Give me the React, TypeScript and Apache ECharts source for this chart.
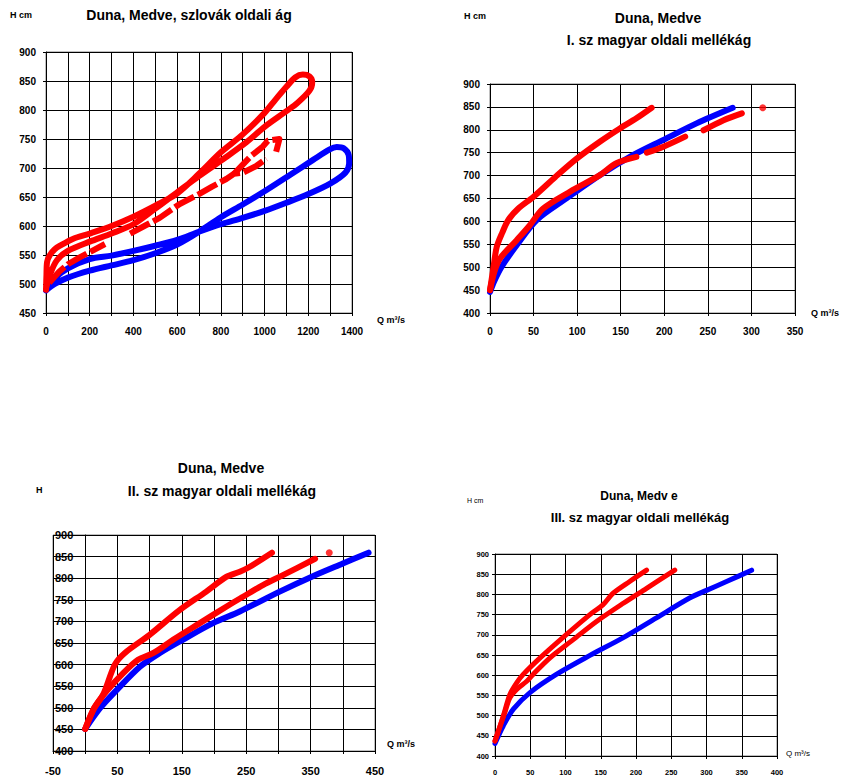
import React, { useEffect, useRef } from "react";
import * as echarts from "echarts";

// ---------- Chart 1: Duna, Medve, szlovák oldali ág ----------
const c1Blue: [number, number][] = [
  [0, 489], [40, 510], [100, 527], [200, 543], [300, 549], [400, 557], [500, 566], [600, 576],
  [700, 590], [800, 603], [900, 614], [1000, 626], [1100, 640], [1200, 655], [1300, 673],
  [1370, 692], [1387, 708], [1385, 722], [1362, 734], [1330, 736], [1298, 732], [1222, 714],
  [1116, 688], [1009, 662], [900, 637], [800, 615], [700, 590], [600, 568], [500, 553],
  [400, 541], [300, 532], [200, 523], [100, 511], [40, 500], [0, 489],
];
const c1RedLoop: [number, number][] = [
  [0, 490], [2, 515], [5, 538], [18, 550], [40, 560], [64, 566], [125, 578], [200, 587],
  [300, 600], [400, 616], [500, 635], [600, 656], [700, 690], [800, 727], [900, 758],
  [1000, 795], [1050, 818], [1100, 840], [1140, 856], [1175, 861], [1205, 858], [1218, 848],
  [1205, 833], [1150, 812], [1100, 798], [1000, 771], [916, 744], [810, 715], [700, 686],
  [600, 658], [500, 630], [400, 603], [300, 587], [200, 573], [100, 557], [50, 541],
  [20, 518], [0, 492],
];
const c1RedDashA: [number, number][] = [
  [15, 502], [60, 521], [100, 534], [150, 545], [200, 555], [270, 569],
];
const c1RedDashB: [number, number][] = [
  [385, 587], [450, 600], [520, 614], [612, 638], [700, 655], [760, 668], [825, 681],
  [860, 690], [901, 692], [960, 703], [1008, 716],
];
const c1RedDashC: [number, number][] = [
  [860, 690], [939, 721], [992, 737], [1015, 747], [1068, 750], [1053, 728],
];

// ---------- Chart 2: I. sz magyar oldali mellékág ----------
const c2RedUpper: [number, number][] = [
  [0, 450], [4, 500], [7.7, 544], [14, 575], [21, 603], [32.5, 628], [50, 654], [75, 697],
  [99.5, 737], [126, 774], [149, 803], [168, 825], [185.5, 848],
];
const c2Blue: [number, number][] = [
  [0, 446], [5, 470], [13.4, 501], [30.6, 548], [53.6, 603], [86, 648], [126, 701],
  [164.5, 745], [199, 778], [237, 814], [278.5, 848],
];
const c2RedLowerA: [number, number][] = [
  [0, 450], [5, 490], [11.5, 519], [30.6, 559], [45, 590], [61, 628], [92, 665], [126, 701],
  [145, 727], [168, 741],
];
const c2RedLowerB: [number, number][] = [[180, 750], [199, 763], [224, 785]];
const c2RedLowerC: [number, number][] = [[245, 799], [268, 821], [289, 836]];
const c2RedDot: [number, number][] = [[313, 848]];

// ---------- Chart 3: II. sz magyar oldali mellékág ----------
const c3Blue: [number, number][] = [
  [0, 451], [23, 499], [48.8, 541], [85, 595], [116, 627], [152, 658], [198.5, 696],
  [240, 723], [302, 769], [351, 803], [400, 834], [440, 859],
];
const c3RedUpper: [number, number][] = [
  [0, 451], [12.6, 496], [28, 531], [46, 600], [61.6, 627], [100, 669], [146.5, 726],
  [188, 769], [219, 803], [240, 815], [255, 826], [290, 859],
];
const c3RedMiddle: [number, number][] = [
  [0, 451], [15, 502], [33, 538], [59, 580], [82, 611], [106, 627], [137, 658], [178, 696],
  [219, 734], [245, 757], [276, 784], [307, 807], [357, 845],
];
const c3RedDot: [number, number][] = [[379, 859]];

// ---------- Chart 4: III. sz magyar oldali mellékág ----------
const c4RedUpper: [number, number][] = [
  [0, 437], [11.8, 499], [21, 552], [30.7, 581], [40, 602], [64, 643], [101.5, 701],
  [134.6, 750], [153, 774], [167.6, 803], [191, 832], [215, 860],
];
const c4RedMiddle: [number, number][] = [
  [0, 437], [14, 508], [21, 544], [30.7, 565], [45, 585], [54, 602], [78, 643], [111, 688],
  [144, 733], [182, 778], [215, 815], [255, 860],
];
const c4Blue: [number, number][] = [
  [0, 431], [11.8, 475], [26, 516], [49.6, 557], [87, 602], [134.6, 649], [182, 693],
  [229, 742], [276, 791], [300, 810], [330, 833], [364, 860],
];

const RED = "#FF0000";
const BLUE = "#0000FF";
const FONT = "Liberation Sans, Arial, sans-serif";

function xAx(gi: number, min: number, max: number, interval: number, labelEvery: number, fontSize: number, margin: number) {
  return {
    type: "value", gridIndex: gi, min, max, interval,
    axisLine: { show: true, lineStyle: { color: "#000", width: 1 } },
    axisTick: { show: true, length: 3, inside: false, lineStyle: { color: "#000" } },
    axisLabel: {
      fontSize, fontWeight: "bold", color: "#000", fontFamily: FONT, margin,
      showMinLabel: true, showMaxLabel: true, hideOverlap: false,
      formatter: (v: number) => (Math.round(v - min) % labelEvery === 0 ? String(v) : ""),
    },
    splitLine: { show: true, lineStyle: { color: "#000", width: 1 } },
  };
}
function yAx(gi: number, min: number, max: number, interval: number, fontSize: number, margin: number, inside = false) {
  return {
    type: "value", gridIndex: gi, min, max, interval,
    axisLine: { show: true, lineStyle: { color: "#000", width: 1 } },
    axisTick: { show: true, length: 3, inside: false, lineStyle: { color: "#000" } },
    axisLabel: {
      fontSize, fontWeight: "bold", color: "#000", fontFamily: FONT, margin, inside,
      showMinLabel: true, showMaxLabel: true, formatter: (v: number) => String(v),
    },
    splitLine: { show: true, lineStyle: { color: "#000", width: 1 } },
  };
}
function ln(gi: number, data: [number, number][], color: string, width: number, dashed = false, smooth: number | boolean = 0.3) {
  return {
    type: "line", xAxisIndex: gi, yAxisIndex: gi, data, symbol: "none", showSymbol: false,
    smooth, silent: true, z: color === RED ? 3 : 2,
    lineStyle: { color, width, type: dashed ? [22, 4] : "solid", cap: dashed ? "butt" : "round", join: "round" },
  };
}
function dot(gi: number, data: [number, number][], size: number) {
  return {
    type: "scatter", xAxisIndex: gi, yAxisIndex: gi, data, symbol: "circle", symbolSize: size,
    itemStyle: { color: RED }, silent: true, z: 3,
  };
}
function txt(x: number, y: number, text: string, font: string, align: string = "center") {
  return {
    type: "text", x, y, z: 10,
    style: { text, fill: "#000", font, textAlign: align, verticalAlign: "middle" },
  };
}

export default function App() {
  const ref = useRef<HTMLDivElement>(null);
  useEffect(() => {
    if (!ref.current) return;
    const chart = echarts.init(ref.current, undefined, { renderer: "svg" });
    const gridStyle = { show: true, borderColor: "#808080", borderWidth: 1, backgroundColor: "transparent", containLabel: false };
    chart.setOption({
      animation: false,
      backgroundColor: "#ffffff",
      textStyle: { fontFamily: FONT },
      grid: [
        { ...gridStyle, left: 46, top: 52, width: 306, height: 261 },
        { ...gridStyle, left: 490, top: 84, width: 305, height: 229 },
        { ...gridStyle, left: 53, top: 535, width: 322, height: 217 },
        { ...gridStyle, left: 495, top: 554, width: 282, height: 202 },
      ],
      xAxis: [
        xAx(0, 0, 1400, 100, 200, 10, 13),
        xAx(1, 0, 350, 50, 50, 10, 13),
        xAx(2, -50, 450, 50, 100, 11, 14),
        xAx(3, 0, 400, 50, 50, 7.5, 12),
      ],
      yAxis: [
        yAx(0, 450, 900, 50, 10, 10),
        yAx(1, 400, 900, 50, 10, 10),
        yAx(2, 400, 900, 50, 11, 2, true),
        yAx(3, 400, 900, 50, 7.5, 6),
      ],
      series: [
        ln(0, c1Blue, BLUE, 6),
        ln(0, c1RedLoop, RED, 6),
        ln(0, c1RedDashA, RED, 6, true, false),
        ln(0, c1RedDashB, RED, 6, true, false),
        ln(0, c1RedDashC, RED, 6, true, false),
        ln(1, c2Blue, BLUE, 6),
        ln(1, c2RedUpper, RED, 6),
        ln(1, c2RedLowerA, RED, 6),
        ln(1, c2RedLowerB, RED, 6),
        ln(1, c2RedLowerC, RED, 6),
        dot(1, c2RedDot, 7),
        ln(2, c3Blue, BLUE, 6),
        ln(2, c3RedUpper, RED, 6),
        ln(2, c3RedMiddle, RED, 6),
        dot(2, c3RedDot, 7),
        ln(3, c4Blue, BLUE, 5),
        ln(3, c4RedUpper, RED, 5),
        ln(3, c4RedMiddle, RED, 5),
      ],
      graphic: [
        txt(189, 15, "Duna, Medve, szlovák oldali ág", `bold 14px ${FONT}`),
        txt(10, 15, "H cm", `bold 9px ${FONT}`, "left"),
        txt(377, 320, "Q m³/s", `bold 9px ${FONT}`, "left"),
        txt(658, 18, "Duna, Medve", `bold 14px ${FONT}`),
        txt(659, 40, "I. sz magyar oldali mellékág", `bold 14px ${FONT}`),
        txt(464, 16, "H cm", `bold 9px ${FONT}`, "left"),
        txt(811, 313, "Q m³/s", `bold 9px ${FONT}`, "left"),
        txt(221, 468, "Duna, Medve", `bold 14px ${FONT}`),
        txt(222, 491, "II. sz magyar oldali mellékág", `bold 14px ${FONT}`),
        txt(36, 490, "H", `bold 9px ${FONT}`, "left"),
        txt(387, 744, "Q m³/s", `bold 9px ${FONT}`, "left"),
        txt(639, 496, "Duna, Medv e", `bold 12px ${FONT}`),
        txt(640, 517, "III. sz magyar oldali mellékág", `bold 13px ${FONT}`),
        txt(467, 500, "H cm", `7px ${FONT}`, "left"),
        txt(786, 753, "Q m³/s", `8px ${FONT}`, "left"),
      ],
    });
    return () => chart.dispose();
  }, []);
  return (
    <div
      ref={ref}
      style={{ position: "fixed", left: 0, top: 0, width: 841, height: 776, background: "#fff" }}
    />
  );
}
